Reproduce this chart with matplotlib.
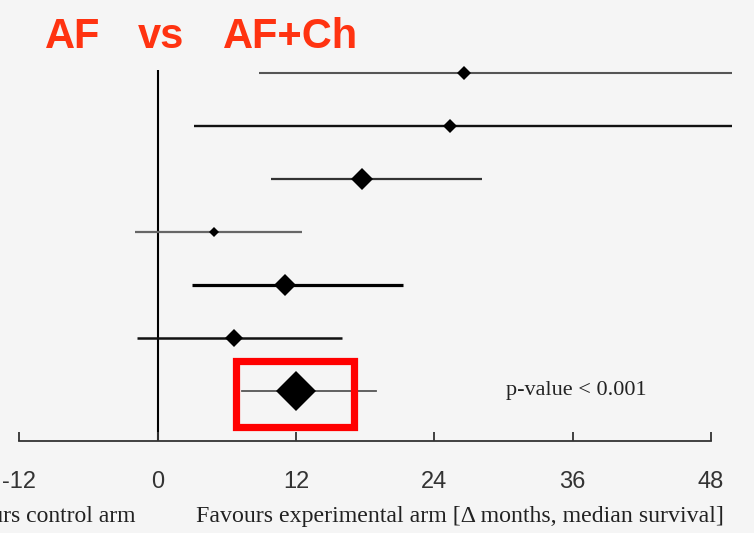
import numpy as np
import matplotlib.pyplot as plt
from matplotlib.patches import Rectangle

# forest plot: delta median survival (months), AF vs AF+Ch
est = [26.6, 25.4, 17.7, 4.9, 11.05, 6.65]
lo = [8.8, 3.15, 9.8, -2.0, 2.95, -1.8]
hi = [49.8, 49.8, 28.1, 12.55, 21.3, 16.0]
pooled_est, pooled_lo, pooled_hi = 12.0, 7.3, 18.9
xticks = [-12, 0, 12, 24, 36, 48]

# styles
line_col = ['#555555', '#111111', '#333333', '#666666', '#000000', '#111111']
line_w = [1.5, 1.7, 1.6, 1.6, 2.3, 1.8]
marker_pt = [7.1, 7.6, 11.2, 4.6, 11.2, 9.2]
bg = '#f5f5f5'
red = '#ff3311'

fig = plt.figure(figsize=(7.54, 5.33), dpi=100, facecolor=bg)
ax = fig.add_axes([0, 0.1726, 1, 0.8274], facecolor=bg)

rows = np.arange(len(est))
for i in rows:
    ax.plot([lo[i], hi[i]], [i, i], color=line_col[i], lw=line_w[i],
            solid_capstyle='butt', zorder=2)
    ax.plot(est[i], i, marker='D', ms=marker_pt[i], color='black', mew=0, zorder=3)

prow = len(est)
ax.plot([pooled_lo, pooled_hi], [prow, prow], color='#555555', lw=1.3, zorder=2)
ax.plot(pooled_est, prow, marker='D', ms=20.4, color='black', mew=0, zorder=3)

# highlight box round pooled estimate
ax.add_patch(Rectangle((pooled_est - 5.2, prow - 0.56), 10.25, 1.25, fill=False,
                       edgecolor='#ff0000', lw=5.2, zorder=4))

ax.vlines(0, -0.06, 6.95, color='black', lw=1.5, zorder=1)

ax.set_xlim(-13.68, 51.74)
ax.set_ylim(6.95, -1.386)
for s in ['top', 'right', 'left']:
    ax.spines[s].set_visible(False)
ax.spines['bottom'].set_bounds(-12, 48)
ax.spines['bottom'].set_color('#333333')
ax.spines['bottom'].set_linewidth(1.3)
ax.set_yticks([])
ax.set_xticks(xticks)
ax.set_xticklabels([str(t) for t in xticks], family='Liberation Sans', fontsize=17, color='#333333')
ax.tick_params(axis='x', direction='in', length=6.5, width=1.3, color='#333333', pad=21.5)

ax.text(pooled_est + 18.2, prow, 'p-value < 0.001', family='Liberation Serif',
        fontsize=16, va='center', ha='left', color='#222222')

fig.text(135 / 754, 1 - 521.7 / 533, 'Favours control arm', family='Liberation Serif',
         fontsize=17, ha='right', va='baseline', color='#222222')
fig.text(196 / 754, 1 - 521.7 / 533, 'Favours experimental arm [\u0394 months, median survival]',
         family='Liberation Serif', fontsize=17.2, ha='left', va='baseline', color='#222222')

for x, s in [(45, 'AF'), (138, 'vs'), (223, 'AF+Ch')]:
    fig.text(x / 754, 1 - 48 / 533, s, family='Liberation Sans', weight='bold',
             fontsize=30, color=red, ha='left', va='baseline')

plt.savefig('out.png', dpi=100, facecolor=bg)
